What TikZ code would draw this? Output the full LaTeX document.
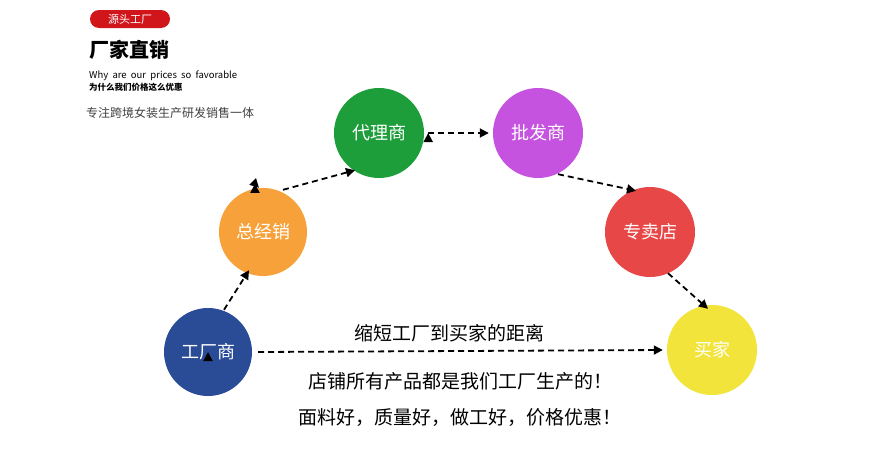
\documentclass[tikz,border=0pt]{standalone}
\usepackage{fontspec}
\setmainfont{Noto Sans CJK SC}
\usetikzlibrary{arrows.meta}
\definecolor{cblue}{HTML}{2A4C96}
\definecolor{corange}{HTML}{F7A13A}
\definecolor{cgreen}{HTML}{1E9E3A}
\definecolor{cpurple}{HTML}{C553E0}
\definecolor{cred}{HTML}{E84747}
\definecolor{cyellow}{HTML}{F2E43A}
\definecolor{cbadge}{HTML}{D0161B}
\begin{document}
\begin{tikzpicture}[x=1pt,y=-1pt,
  ball/.style={circle,minimum size=88pt,inner sep=0,text=white,font=\fontsize{18}{18}\selectfont},
  arr/.style={dashed,dash pattern=on 6pt off 4pt,line width=1.8pt,-{Triangle[length=9pt,width=9pt]}},
  big/.style={font=\fontsize{19}{19}\selectfont,anchor=center}]
\useasboundingbox (0,0) rectangle (869,455);
\node[ball,fill=cblue] (a) at (208,352) {工厂商};
\node[ball,fill=corange] (b) at (263,232) {总经销};
\node[ball,fill=cgreen,minimum size=90pt] (c) at (379,133) {代理商};
\node[ball,fill=cpurple,minimum size=90pt] (d) at (538,133) {批发商};
\node[ball,fill=cred,minimum size=90pt] (e) at (650,232) {专卖店};
\node[ball,fill=cyellow,minimum size=90pt] (f) at (712,350) {买家};
\draw[arr] (b.north) ++(-8,-4) coordinate (b1);
\draw[arr] (b1) -- ([xshift=-4pt]b.north) ;
\coordinate (ab1) at (220,306);
\coordinate (ab2) at (241,272);
\draw[arr] (a) ++(0,0) ;
\draw[arr] ([shift={(16pt,-2pt)}]a.north) -- ([shift={(-14pt,6pt)}]b.south);
\draw[arr] ([shift={(20pt,-2pt)}]b.north) -- ([shift={(-24pt,8pt)}]c.south);
\draw[arr] (c.east) ++(4,0) coordinate (c1);
\draw[arr] ([xshift=4pt]c.east) -- ([xshift=-4pt]d.east -| d.west);
\draw[arr] ([shift={(20pt,4pt)}]d.south) -- ([shift={(-14pt,-4pt)}]e.north);
\draw[arr] ([shift={(18pt,4pt)}]e.south) -- ([shift={(-4pt,-4pt)}]f.north);
\draw[arr] ([xshift=6pt]a.east) -- ([xshift=-4pt]f.west);
\node[big] (t1) at (449,333) {缩短工厂到买家的距离};
\node[big] (t2) at (460,381) {店铺所有产品都是我们工厂生产的！};
\node[big] (t3) at (460,418) {面料好，质量好，做工好，价格优惠！};
\node[fill=cbadge,rounded corners=9pt,minimum width=80pt,minimum height=18pt,inner sep=0,text=white,font=\fontsize{11}{11}\selectfont] (badge) at (130,19) {源头工厂};
\node[anchor=west,font=\fontsize{20}{20}\selectfont\bfseries] (h) at (86,50) {厂家直销};
\node[anchor=west,inner sep=0,font=\fontsize{9.5}{9.5}\selectfont] (en) at (89,76) {Why\ \ are\ \ our\ \ prices\ \ so\ \ favorable};
\node[anchor=west,inner sep=0,font=\fontsize{8.5}{8.5}\selectfont\bfseries] (zh) at (89,87) {为什么我们价格这么优惠};
\node[anchor=west,inner sep=0,text=black!75,font=\fontsize{12}{12}\selectfont] (sub) at (86,113) {专注跨境女装生产研发销售一体};
\end{tikzpicture}
\end{document}
